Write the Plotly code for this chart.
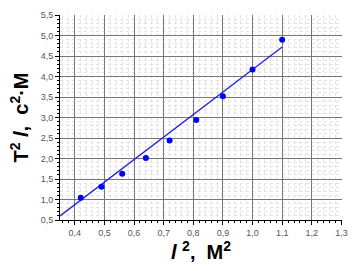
import plotly.graph_objects as go

l2 = [0.42, 0.49, 0.56, 0.64, 0.72, 0.81, 0.90, 1.00, 1.10]
T2l = [1.04, 1.31, 1.63, 2.01, 2.44, 2.94, 3.52, 4.17, 4.90]
fit_x = [0.35, 1.10]
fit_y = [0.60, 4.72]

fig = go.Figure()
fig.add_trace(go.Scatter(x=fit_x, y=fit_y, mode="lines",
                         line=dict(color="#2222dd", width=1.3), showlegend=False))
fig.add_trace(go.Scatter(x=l2, y=T2l, mode="markers",
                         marker=dict(color="#0000ff", size=6), showlegend=False))

axis_common = dict(
    showline=True, linecolor="black", linewidth=1,
    gridcolor="#777777", gridwidth=1,
    ticks="outside", ticklen=4, tickcolor="black",
    tickfont=dict(family="Liberation Sans, Arial", size=9, color="#555555"),
    zeroline=False, mirror=False,
)

fig.update_xaxes(range=[0.35, 1.302], dtick=0.1, tick0=0.4, tickformat=".1f",
                 minor=dict(dtick=0.02, showgrid=True, gridcolor="#e2e2e2",
                            griddash="dot", ticks="outside", ticklen=2, tickcolor="black"),
                 title=dict(text="<b><i>l</i> <sup>2</sup>,  М<sup>2</sup></b>",
                            font=dict(family="Liberation Sans, Arial", size=20, color="black"),
                            standoff=2),
                 **axis_common)
fig.update_yaxes(range=[0.5, 5.502], dtick=0.5, tick0=0.5, tickformat=".1f",
                 minor=dict(dtick=0.1, showgrid=True, gridcolor="#e2e2e2",
                            griddash="dot", ticks="outside", ticklen=2, tickcolor="black"),
                 title=dict(text="<b>T<sup>2</sup> <i>l</i>,  с<sup>2</sup>·М</b>",
                            font=dict(family="Liberation Sans, Arial", size=20, color="black"),
                            standoff=6),
                 **axis_common)

fig.update_layout(
    width=354, height=271,
    margin=dict(l=60, r=6, t=15, b=51),
    plot_bgcolor="white", paper_bgcolor="white",
    separators=", ",
)

fig.write_html("out.html")
